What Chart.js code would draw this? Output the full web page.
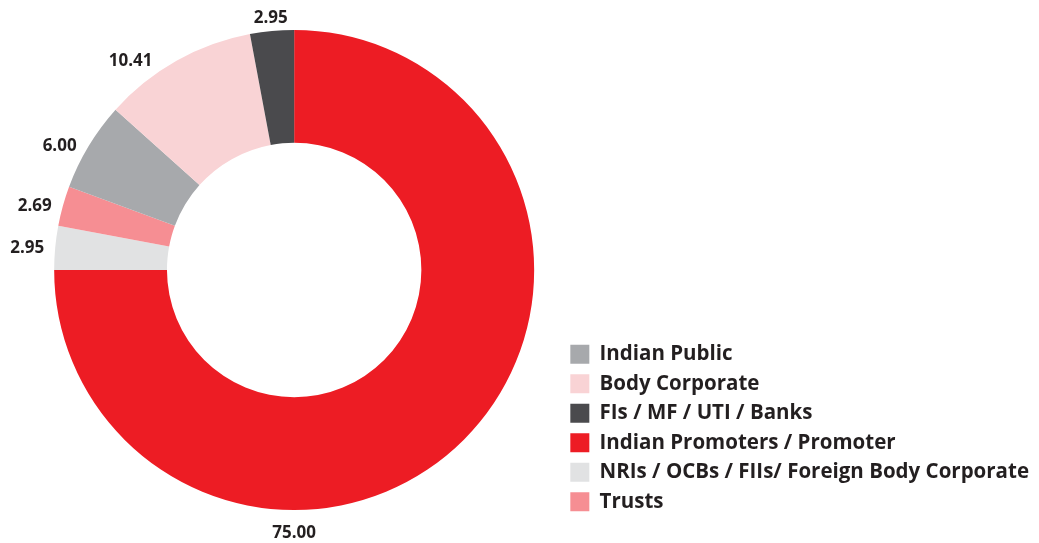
<!DOCTYPE html>
<html>
<head>
<meta charset="utf-8">
<script src="https://cdn.jsdelivr.net/npm/chart.js@4.4.0/dist/chart.umd.min.js"></script>
<style>
  html, body { margin: 0; padding: 0; background: #fff; }
  #wrap { width: 1039px; height: 543px; position: relative; }
</style>
</head>
<body>
<div id="wrap"><canvas id="shareChart"></canvas></div>
<script>
// slices in drawing order, clockwise from 12 o'clock
const categories = ['Indian Promoters / Promoter', 'NRIs / OCBs / FIIs/ Foreign Body Corporate', 'Trusts', 'Indian Public', 'Body Corporate', 'FIs / MF / UTI / Banks'];
const holdings = [75.00, 2.95, 2.69, 6.00, 10.41, 2.95];
const valueLabels = ['75.00', '2.95', '2.69', '6.00', '10.41', '2.95'];
const sliceColors = ['#ed1c24', '#e1e2e3', '#f68e93', '#a7a9ac', '#f9d3d5', '#4a4a4d'];
// legend is listed in a different order than the slices
const legendOrder = ['Indian Public', 'Body Corporate', 'FIs / MF / UTI / Banks', 'Indian Promoters / Promoter', 'NRIs / OCBs / FIIs/ Foreign Body Corporate', 'Trusts'];

const valueLabelPlugin = {
  id: 'valueLabels',
  afterDatasetsDraw(chart) {
    const ctx = chart.ctx;
    const meta = chart.getDatasetMeta(0);
    ctx.save();
    ctx.font = 'bold 17px "Open Sans"';
    ctx.fillStyle = '#231f20';
    ctx.textBaseline = 'middle';
    meta.data.forEach(function (arc, i) {
      const p = arc.getProps(['x', 'y', 'startAngle', 'endAngle', 'outerRadius'], true);
      let mid = (p.startAngle + p.endAngle) / 2;
      const c = Math.cos(mid), s = Math.sin(mid);
      let x, y;
      if (p.endAngle - p.startAngle > Math.PI) {
        // the big slice gets its label under the ring
        ctx.textAlign = 'center';
        x = p.x;
        y = p.y + p.outerRadius + 23;
      } else if (c < -0.4) {
        // left side: right aligned, pushed out sideways from the rim
        ctx.textAlign = 'right';
        const gap = 11 + 50 * Math.pow(1 - Math.abs(c), 2);
        x = p.x + c * p.outerRadius - gap;
        y = p.y + s * p.outerRadius;
      } else {
        ctx.textAlign = 'center';
        x = p.x + c * (p.outerRadius + 13);
        y = p.y + s * (p.outerRadius + 13);
      }
      ctx.fillText(valueLabels[i], x, y);
    });
    ctx.restore();
  }
};

const ctx = document.getElementById('shareChart');

new Chart(ctx, {
  type: 'doughnut',
  data: {
    labels: categories,
    datasets: [{
      data: holdings,
      backgroundColor: sliceColors,
      borderWidth: 0,
      radius: 240
    }]
  },
  options: {
    responsive: true,
    maintainAspectRatio: false,
    animation: false,
    cutout: '53%',
    layout: {
      padding: { left: 27, top: 19, bottom: 22, right: 0 }
    },
    plugins: {
      tooltip: { enabled: false },
      legend: {
        position: 'right',
        align: 'end',
        labels: {
          boxWidth: 19,
          boxHeight: 19,
          padding: 9,
          color: '#231f20',
          font: { family: 'Open Sans', weight: 'bold', size: 20.5 },
          sort: function (a, b) {
            return legendOrder.indexOf(a.text) - legendOrder.indexOf(b.text);
          }
        }
      }
    }
  },
  plugins: [valueLabelPlugin]
});
</script>
</body>
</html>
